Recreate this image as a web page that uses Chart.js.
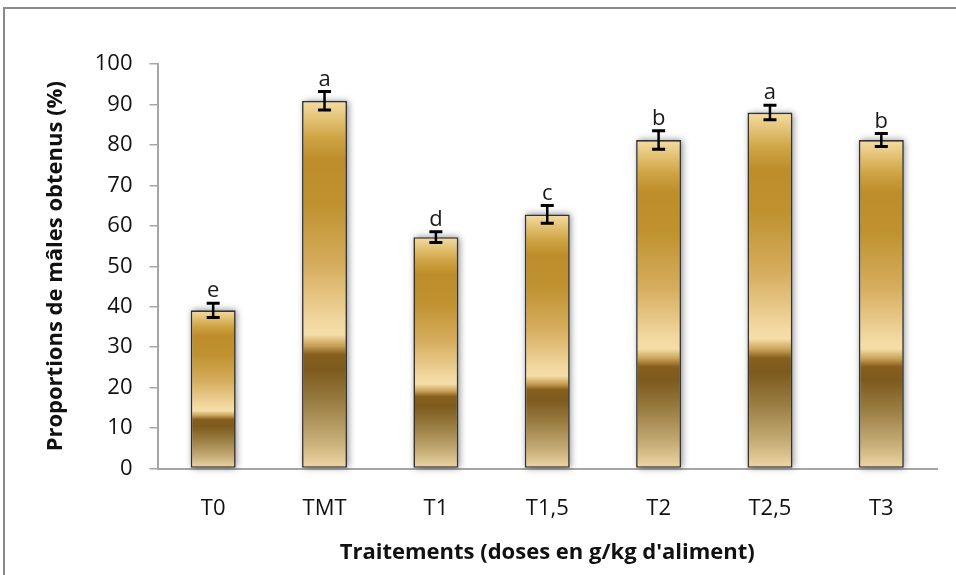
<!DOCTYPE html>
<html>
<head>
<meta charset="utf-8">
<script src="https://cdn.jsdelivr.net/npm/chart.js@4.4.1/dist/chart.umd.min.js"></script>
<style>
  html, body { margin: 0; padding: 0; background: #ffffff; }
  #wrap { width: 956px; height: 575px; position: relative; }
</style>
</head>
<body>
<div id="wrap"><canvas id="c" width="956" height="575"></canvas></div>
<script>
// Treatments and the proportion of males obtained (%)
const categories = ['T0', 'TMT', 'T1', 'T1,5', 'T2', 'T2,5', 'T3'];
const maleProportion = [39.1, 90.9, 57.2, 62.8, 81.2, 88.0, 81.2];
const stdError = [1.75, 2.3, 1.3, 2.2, 2.3, 1.8, 1.6];
const groupLetters = ['e', 'a', 'd', 'c', 'b', 'a', 'b'];
const yTicks = [0, 10, 20, 30, 40, 50, 60, 70, 80, 90, 100];

const FONT = "'Open Sans', 'Liberation Sans', sans-serif";

// Gold gradient stretched over each bar, from its top (0) to the baseline (1)
const goldStops = [
  [0.00, '#f5dda2'],
  [0.10, '#cfa444'],
  [0.16, '#bd8d2b'],
  [0.28, '#bf922f'],
  [0.45, '#d6ad5e'],
  [0.60, '#f2d79f'],
  [0.635, '#f6dea9'],
  [0.665, '#caa258'],
  [0.69, '#875f1e'],
  [0.73, '#7d5a1d'],
  [0.82, '#9a7d42'],
  [0.92, '#c4aa74'],
  [1.00, '#eed8a6']
];

function barGradient(context) {
  const chart = context.chart;
  if (!chart.chartArea) return '#c99a3a';
  const y = chart.scales.y;
  const top = y.getPixelForValue(context.raw);
  const bottom = y.getPixelForValue(0);
  const g = chart.ctx.createLinearGradient(0, top, 0, bottom);
  goldStops.forEach(([p, c]) => g.addColorStop(p, c));
  return g;
}

// Grey frame along the left and top edges
const framePlugin = {
  id: 'frame',
  beforeDraw(chart) {
    const ctx = chart.ctx;
    ctx.save();
    ctx.strokeStyle = '#8a8a8a';
    ctx.lineWidth = 2;
    ctx.beginPath();
    ctx.moveTo(4, 575);
    ctx.lineTo(4, 8);
    ctx.lineTo(956, 8);
    ctx.stroke();
    ctx.restore();
  }
};

// Soft drop shadow behind each bar
const shadowPlugin = {
  id: 'barShadow',
  beforeDatasetsDraw(chart) {
    const ctx = chart.ctx;
    const meta = chart.getDatasetMeta(0);
    const far = 10000;
    ctx.save();
    ctx.shadowColor = 'rgba(0,0,0,0.45)';
    ctx.shadowBlur = 7;
    ctx.shadowOffsetX = far + 1.5;
    ctx.shadowOffsetY = 0;
    ctx.fillStyle = '#000';
    meta.data.forEach(bar => {
      const p = bar.getProps(['x', 'y', 'base', 'width'], true);
      ctx.fillRect(p.x - p.width / 2 - far, p.y, p.width, p.base - p.y);
    });
    ctx.restore();
  }
};

// Error bars (± standard error) and significance letters
const errorPlugin = {
  id: 'errorBars',
  afterDatasetsDraw(chart) {
    const ctx = chart.ctx;
    const y = chart.scales.y;
    const meta = chart.getDatasetMeta(0);
    ctx.save();
    meta.data.forEach((bar, i) => {
      const x = bar.x;
      const v = maleProportion[i];
      const hi = y.getPixelForValue(v + stdError[i]);
      const lo = y.getPixelForValue(v - stdError[i]);
      ctx.strokeStyle = '#000';
      ctx.lineWidth = 2.5;
      ctx.beginPath();
      ctx.moveTo(x, hi);
      ctx.lineTo(x, lo);
      ctx.stroke();
      ctx.lineWidth = 3;
      ctx.beginPath();
      ctx.moveTo(x - 6.5, hi);
      ctx.lineTo(x + 6.5, hi);
      ctx.moveTo(x - 6.5, lo);
      ctx.lineTo(x + 6.5, lo);
      ctx.stroke();

      ctx.fillStyle = '#1a1a1a';
      ctx.font = '22px ' + FONT;
      ctx.textAlign = 'center';
      ctx.textBaseline = 'alphabetic';
      ctx.fillText(groupLetters[i], x, hi - 6);
    });
    ctx.restore();
  }
};

new Chart(document.getElementById('c'), {
  type: 'bar',
  data: {
    labels: categories,
    datasets: [{
      data: maleProportion,
      backgroundColor: barGradient,
      borderColor: '#333333',
      borderWidth: 1.6,
      borderSkipped: false,
      categoryPercentage: 0.8,
      barPercentage: 0.505
    }]
  },
  options: {
    responsive: false,
    animation: false,
    events: [],
    layout: { padding: { left: 0, right: 19, top: 64, bottom: 0 } },
    plugins: {
      legend: { display: false },
      tooltip: { enabled: false }
    },
    scales: {
      x: {
        grid: { display: false, drawTicks: false },
        border: { display: true, color: '#a6a6a6', width: 2 },
        ticks: {
          color: '#111',
          padding: 27,
          font: { family: FONT, size: 22 }
        },
        title: {
          display: true,
          text: "Traitements (doses en g/kg d'aliment)",
          color: '#111',
          font: { family: FONT, size: 22, weight: 'bold' },
          padding: { top: 0, bottom: 9 }
        },
        afterFit(scale) { scale.height = 575 - 468.5; }
      },
      y: {
        min: 0,
        max: 100,
        afterBuildTicks(scale) { scale.ticks = yTicks.map(v => ({ value: v })); },
        grid: {
          drawOnChartArea: false,
          drawTicks: true,
          tickLength: 8,
          color: '#a6a6a6',
          lineWidth: 1.5
        },
        border: { display: true, color: '#a6a6a6', width: 2 },
        ticks: {
          color: '#111',
          padding: 17,
          font: { family: FONT, size: 22 }
        },
        title: {
          display: true,
          text: 'Proportions de mâles obtenus (%)',
          color: '#111',
          font: { family: FONT, size: 22, weight: 'bold' },
          padding: { top: 43, bottom: 0 }
        },
        afterFit(scale) { scale.width = 157.5; }
      }
    }
  },
  plugins: [framePlugin, shadowPlugin, errorPlugin]
});
</script>
</body>
</html>
